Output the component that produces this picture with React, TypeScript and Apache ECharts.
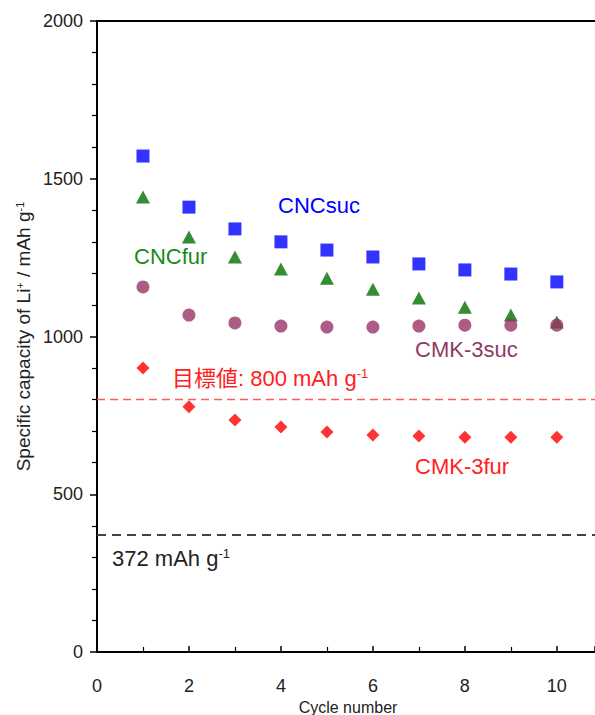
import React, { useEffect, useRef } from "react";
import * as echarts from "echarts";

const cycles = [1, 2, 3, 4, 5, 6, 7, 8, 9, 10];
const cncSuc = [1572, 1410, 1341, 1300, 1274, 1252, 1230, 1211, 1198, 1173];
const cncFur = [1442, 1315, 1252, 1214, 1185, 1150, 1122, 1093, 1068, 1046];
const cmkSuc = [1157, 1068, 1043, 1033, 1030, 1030, 1033, 1036, 1036, 1036];
const cmkFur = [900, 777, 735, 713, 697, 688, 685, 681, 681, 681];
const targetValue = 800;
const graphiteValue = 372;

const FONT = "Arial, 'Liberation Sans', Helvetica, sans-serif";
const CJK = "Arial, 'Liberation Sans', 'Noto Sans CJK JP', sans-serif";

const pairs = (ys: number[]) => cycles.map((c, i) => [c, ys[i]]);

export default function App() {
  const ref = useRef<HTMLDivElement>(null);
  useEffect(() => {
    if (!ref.current) return;
    const chart = echarts.init(ref.current, undefined, { renderer: "svg", width: 595, height: 715 });
    const supRich = {
      base: { fontSize: 22, fontFamily: CJK },
      sup: { fontSize: 13, fontFamily: FONT, verticalAlign: "top" },
    };
    chart.setOption({
      animation: false,
      backgroundColor: "#ffffff",
      grid: { left: 97, right: 0, top: 21, height: 631, containLabel: false, outerBoundsMode: "none" },
      xAxis: [
        {
          type: "value",
          min: 0,
          max: 10.83,
          interval: 2,
          axisLine: { show: true, lineStyle: { color: "#000", width: 2 } },
          axisTick: { show: true, inside: true, length: 6, lineStyle: { color: "#000", width: 1.5 } },
          minorTick: { show: true, splitNumber: 2, length: 5, lineStyle: { color: "#000", width: 1.2 } },
          axisLabel: {
            fontSize: 18,
            color: "#222",
            fontFamily: FONT,
            margin: 25,
            showMaxLabel: false,
          },
          splitLine: { show: false },
        },
        {
          type: "value",
          position: "top",
          min: 0,
          max: 10.83,
          axisLine: { show: true, onZero: false, lineStyle: { color: "#000", width: 2 } },
          axisTick: { show: false },
          axisLabel: { show: false },
          splitLine: { show: false },
        },
      ],
      yAxis: {
        type: "value",
        min: 0,
        max: 2000,
        interval: 500,
        name: "Specific capacity of Li{sup|+} / mAh g{sup|-1}",
        nameLocation: "middle",
        nameGap: 64,
        nameMoveOverlap: false,
        nameTextStyle: {
          fontSize: 19,
          color: "#222",
          fontFamily: FONT,
          rich: {
            sup: { fontSize: 11, fontFamily: FONT, color: "#222", verticalAlign: "top" },
          },
        },
        axisLine: { show: true, lineStyle: { color: "#000", width: 2 } },
        axisTick: { show: true, length: 7, lineStyle: { color: "#000", width: 1.5 } },
        minorTick: { show: true, splitNumber: 5, length: 5, lineStyle: { color: "#000", width: 1.2 } },
        axisLabel: {
          fontSize: 18,
          color: "#222",
          fontFamily: FONT,
          margin: 14,
          formatter: (v: number) => String(v),
        },
        splitLine: { show: false },
      },
      series: [
        {
          name: "CNCsuc",
          type: "scatter",
          symbol: "rect",
          symbolSize: 13,
          itemStyle: { color: "#0000ff" },
          data: pairs(cncSuc),
        },
        {
          name: "CNCfur",
          type: "scatter",
          symbol: "triangle",
          symbolSize: [14, 13],
          itemStyle: { color: "#007000" },
          data: pairs(cncFur),
        },
        {
          name: "CMK-3suc",
          type: "scatter",
          symbol: "circle",
          symbolSize: 13,
          itemStyle: { color: "#993366" },
          data: pairs(cmkSuc),
        },
        {
          name: "CMK-3fur",
          type: "scatter",
          symbol: "diamond",
          symbolSize: 13,
          itemStyle: { color: "#ff0000" },
          data: pairs(cmkFur),
          markLine: {
            silent: true,
            symbol: ["none", "none"],
            label: { show: false },
            data: [
              { yAxis: targetValue, lineStyle: { color: "#ff5a5a", width: 1.3, type: [8, 5] } },
              { yAxis: graphiteValue, lineStyle: { color: "#444444", width: 2, type: [9, 6] } },
            ],
          },
        },
      ],
      graphic: [
        {
          type: "text",
          x: 348,
          y: 707,
          style: {
            text: "Cycle number",
            fill: "#222222",
            font: `16px ${FONT}`,
            textAlign: "center",
            textVerticalAlign: "middle",
          },
        },
        {
          type: "text",
          x: 278,
          y: 205,
          style: { text: "CNCsuc", fill: "#0000ff", font: `22px ${FONT}`, textVerticalAlign: "middle" },
        },
        {
          type: "text",
          x: 134,
          y: 256,
          style: { text: "CNCfur", fill: "#198a19", font: `22px ${FONT}`, textVerticalAlign: "middle" },
        },
        {
          type: "text",
          x: 415,
          y: 349,
          style: { text: "CMK-3suc", fill: "#8e3a62", font: `22px ${FONT}`, textVerticalAlign: "middle" },
        },
        {
          type: "text",
          x: 172,
          y: 378,
          style: {
            text: "{base|目標値: 800 mAh g}{sup|-1}",
            fill: "#ff2020",
            textVerticalAlign: "middle",
            rich: supRich,
          },
        },
        {
          type: "text",
          x: 415,
          y: 466,
          style: { text: "CMK-3fur", fill: "#ff2020", font: `22px ${FONT}`, textVerticalAlign: "middle" },
        },
        {
          type: "text",
          x: 112,
          y: 558,
          style: {
            text: "{base|372 mAh g}{sup|-1}",
            fill: "#222222",
            textVerticalAlign: "middle",
            rich: supRich,
          },
        },
      ],
    });
    return () => chart.dispose();
  }, []);
  return (
    <div
      ref={ref}
      style={{ position: "absolute", left: 0, top: 0, width: 595, height: 715, background: "#fff", overflow: "hidden" }}
    />
  );
}
